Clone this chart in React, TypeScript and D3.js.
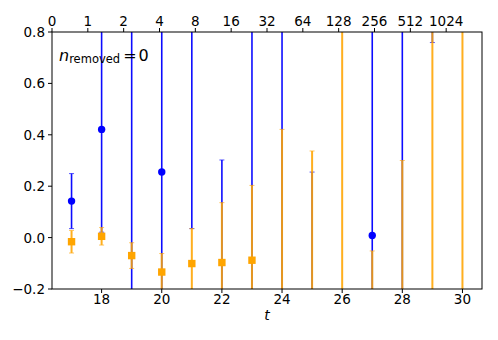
import { useMemo } from 'react';
import * as d3 from 'd3';

// time slices
const tValues = [17, 18, 19, 20, 21, 22, 23, 24, 25, 26, 27, 28, 29, 30];

// blue series (circles)
const blueMean = [0.142, 0.421, -0.45, 0.255, 0.95, -0.3, -0.5, -0.4, -0.5, 1.6, 0.008, -0.4, 1.2, -1.0];
const blueErr = [0.107, 0.4, 1.5, 0.6, 0.915, 0.602, 1.5, 1.5, 0.755, 0.5, 1.0, 1.5, 0.441, 0.5];

// orange series (squares)
const orangeMean = [-0.016, 0.005, -0.07, -0.134, -0.101, -0.097, -0.088, -0.5, -0.6, -0.5, -0.5, -0.4, -0.6, 1.2];
const orangeErr = [0.044, 0.034, 0.05, 0.072, 0.136, 0.233, 0.291, 0.921, 0.937, 1.5, 0.448, 0.7, 1.6, 1.6];

const bottomTicks = [18, 20, 22, 24, 26, 28, 30];
const yTicks = [-0.2, 0.0, 0.2, 0.4, 0.6, 0.8];
const topLabels = ['0', '1', '2', '4', '8', '16', '32', '64', '128', '256', '512', '1024'];

const W = 498;
const H = 340;
const m = { left: 52, right: 482, top: 32, bottom: 289 };
const font = 'DejaVu Sans, sans-serif';

const App = () => {
  const x = useMemo(() => d3.scaleLinear().domain([16.35, 30.65]).range([m.left, m.right]), []);
  const xTop = useMemo(() => d3.scaleLinear().domain([0, 12]).range([m.left, m.right]), []);
  const y = useMemo(() => d3.scaleLinear().domain([-0.2, 0.8]).range([m.bottom, m.top]), []);
  const fmt = d3.format('.1f');

  const bars = (mean: number[], err: number[], color: string, key: string, alpha: number, lw: number) =>
    tValues.map((t, i) => {
      const cx = x(t);
      const y1 = y(mean[i] + err[i]);
      const y0 = y(mean[i] - err[i]);
      return (
        <g key={key + i} opacity={alpha}>
          <line x1={cx} x2={cx} y1={y1} y2={y0} stroke={color} strokeWidth={lw} />
          <line x1={cx - 2.5} x2={cx + 2.5} y1={y1} y2={y1} stroke={color} strokeWidth={1} opacity={0.7} />
          <line x1={cx - 2.5} x2={cx + 2.5} y1={y0} y2={y0} stroke={color} strokeWidth={1} opacity={0.7} />
        </g>
      );
    });

  return (
    <svg width={W} height={H} style={{ position: 'absolute', left: 0, top: 0, background: '#fff' }}>
      <defs>
        <clipPath id="plotArea">
          <rect x={m.left} y={m.top} width={m.right - m.left} height={m.bottom - m.top} />
        </clipPath>
      </defs>

      <g clipPath="url(#plotArea)">
        {bars(blueMean, blueErr, '#0000ff', 'b', 0.95, 1.6)}
        {tValues.map((t, i) => (
          <circle key={'bc' + i} cx={x(t)} cy={y(blueMean[i])} r={3.7} fill="#0000ff" />
        ))}
        {bars(orangeMean, orangeErr, '#ffa500', 'o', 0.88, 2.0)}
        {tValues.map((t, i) => (
          <rect key={'os' + i} x={x(t) - 3.7} y={y(orangeMean[i]) - 3.7} width={7.4} height={7.4} fill="#ffa500" />
        ))}
      </g>

      {/* frame */}
      <rect x={m.left} y={m.top} width={m.right - m.left} height={m.bottom - m.top} fill="none" stroke="#000" strokeWidth={1} />

      {/* bottom axis */}
      {bottomTicks.map((t) => (
        <g key={'bt' + t}>
          <line x1={x(t)} x2={x(t)} y1={m.bottom} y2={m.bottom + 4} stroke="#000" />
          <text x={x(t)} y={m.bottom + 15} textAnchor="middle" fontFamily={font} fontSize={13.5}>{t}</text>
        </g>
      ))}
      <text x={(m.left + m.right) / 2} y={320} textAnchor="middle" fontFamily={font} fontSize={14} fontStyle="italic">t</text>

      {/* top axis */}
      {topLabels.map((lab, i) => (
        <g key={'tt' + i}>
          <line x1={xTop(i)} x2={xTop(i)} y1={m.top} y2={m.top - 4} stroke="#000" />
          <text x={xTop(i)} y={26} textAnchor="middle" fontFamily={font} fontSize={13.5}>{lab}</text>
        </g>
      ))}

      {/* left axis */}
      {yTicks.map((v) => (
        <g key={'yt' + v}>
          <line x1={m.left - 4} x2={m.left} y1={y(v)} y2={y(v)} stroke="#000" />
          <text x={m.left - 7} y={y(v) + 5} textAnchor="end" fontFamily={font} fontSize={13.5}>
            {fmt(v).replace('-', '\u2212')}
          </text>
        </g>
      ))}

      {/* annotation */}
      <text x={59} y={61} fontFamily={font} fontSize={16}>
        <tspan fontStyle="italic">n</tspan>
        <tspan fontSize={11.5} dy={2}>removed</tspan>
        <tspan dy={-2} dx={3}>=</tspan>
        <tspan dx={2}>0</tspan>
      </text>
    </svg>
  );
};

export default App;
